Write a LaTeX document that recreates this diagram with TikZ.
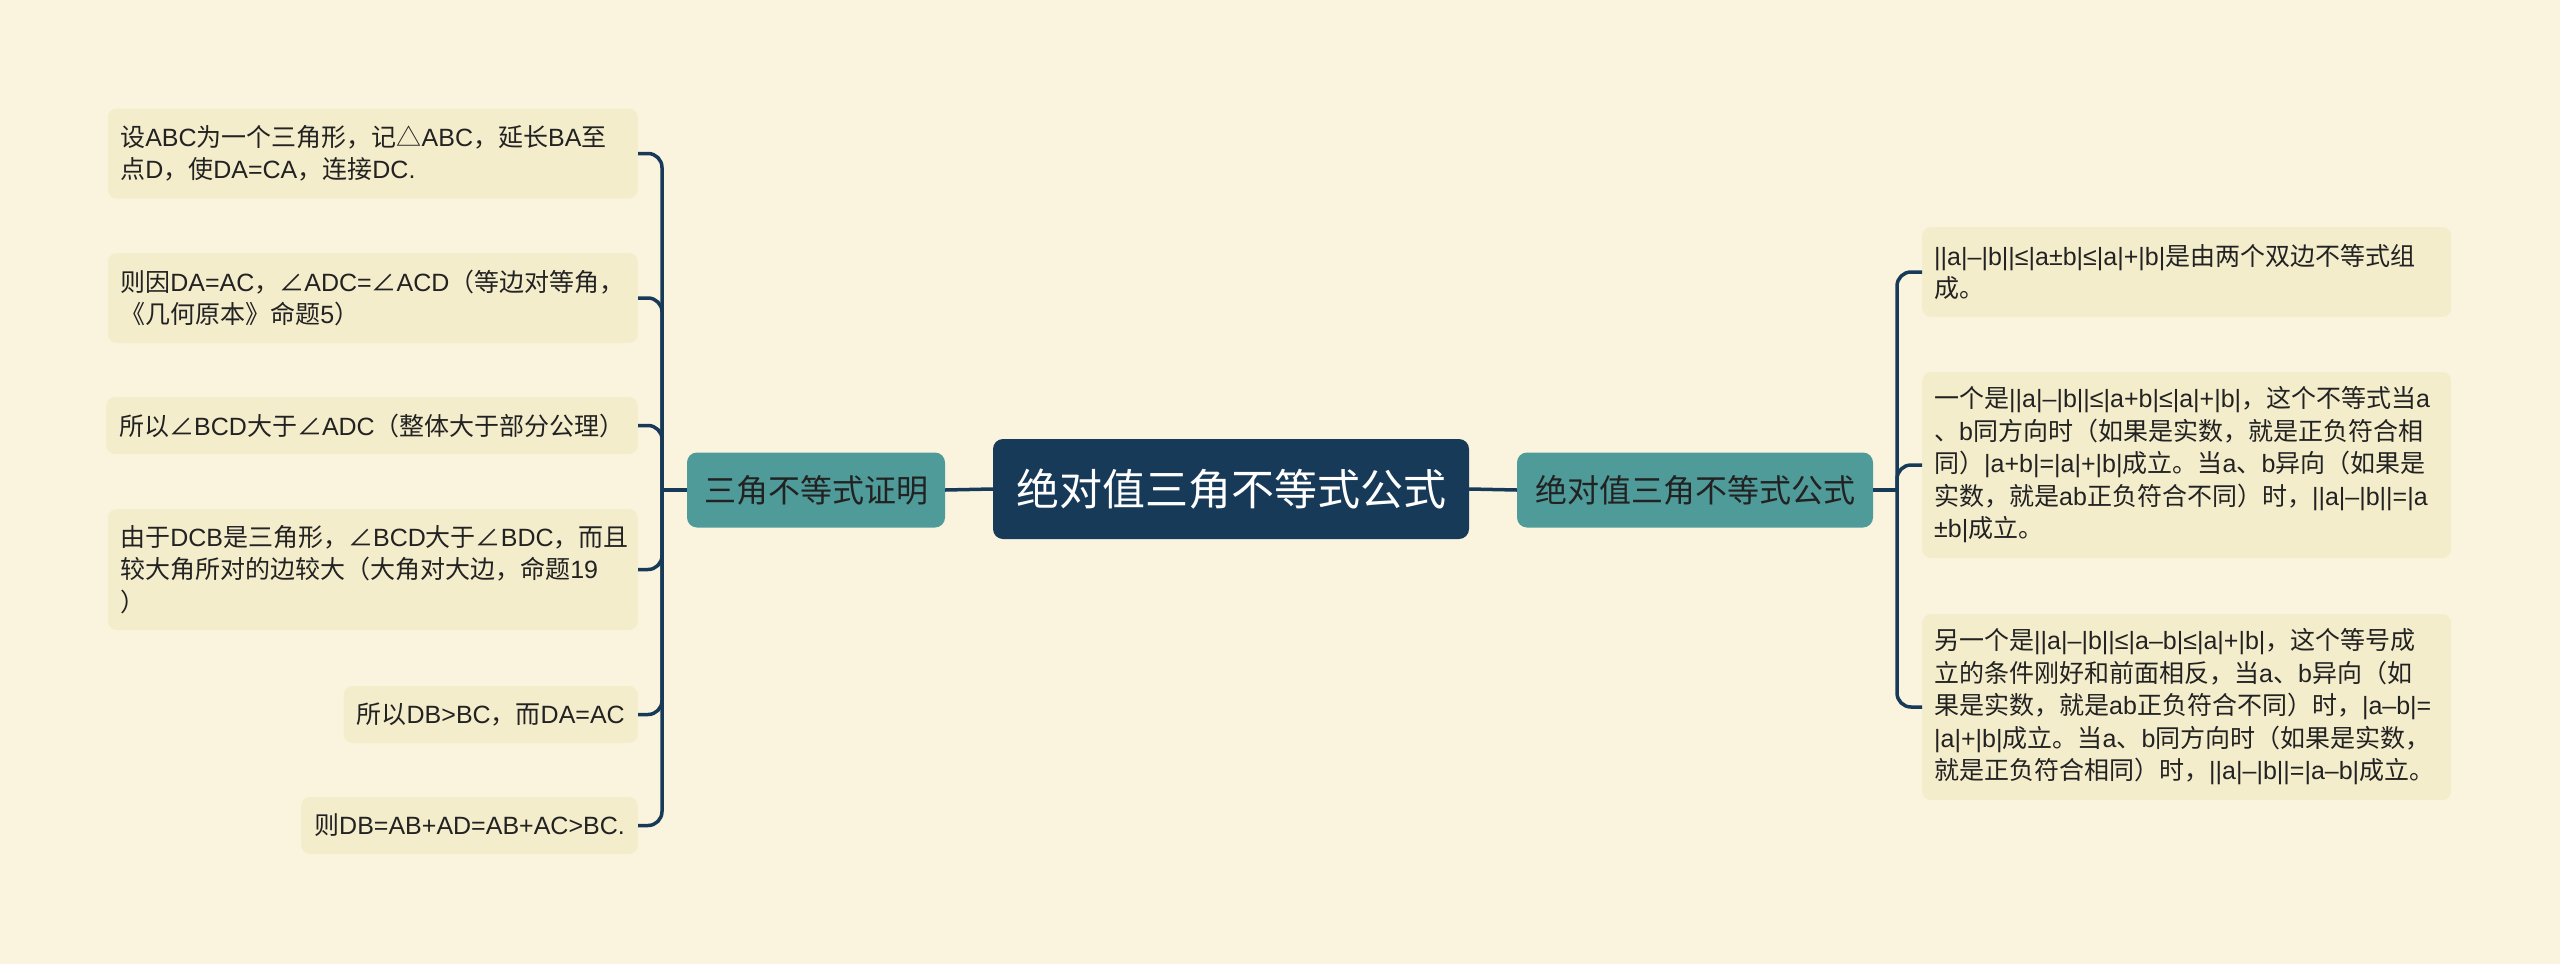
\documentclass[tikz,border=0pt]{standalone}
\usepackage{fontspec}
\setmainfont{Noto Sans CJK SC}
\newfontfamily\latinf{Liberation Sans}
\newcommand{\la}[1]{{\latinf #1}}
\definecolor{bg}{HTML}{FAF4DF}
\definecolor{boxfill}{HTML}{F4EDCC}
\definecolor{teal2}{HTML}{4E9B99}
\definecolor{navy}{HTML}{173A59}
\definecolor{txt}{HTML}{222222}
\tikzset{
  leaf/.style={fill=boxfill, rounded corners=9pt, inner xsep=13pt, inner ysep=4pt,
    align=left, text=txt, font=\fontsize{25pt}{32.5pt}\selectfont},
  leafW/.style={leaf, inner xsep=12.5pt, text width=505pt},
  leafR/.style={leaf, inner xsep=12pt, text width=505pt},
  sub/.style={fill=teal2, rounded corners=10pt, minimum height=75pt, inner sep=0pt,
    text=txt, font=\fontsize{32pt}{38pt}\selectfont},
  rootbox/.style={fill=navy, rounded corners=10pt, minimum width=476pt, minimum height=100pt,
    inner sep=0pt, text=white, font=\fontsize{43pt}{50pt}\selectfont},
  conn/.style={draw=navy, line width=3.5pt},
  brk/.style={conn, rounded corners=14pt}
}
\begin{document}
\begin{tikzpicture}[x=1pt,y=-1pt]
\fill[bg] (0,0) rectangle (2560,964);
\useasboundingbox (0,0) rectangle (2560,964);

\node[rootbox] (root) at (1231,489) {绝对值三角不等式公式};
\node[sub, minimum width=258pt] (lt) at (816,490) {三角不等式证明};
\node[sub, minimum width=356pt] (rt) at (1695,490) {绝对值三角不等式公式};

% left leaves
\node[leafW, minimum height=90pt, anchor=east] (l1) at (638,153.5) {设\la{ABC}为一个三角形，记△\la{ABC}，延长\la{BA}至\\点\la{D}，使\la{DA=CA}，连接\la{DC.}};
\node[leafW, minimum height=90pt, anchor=east] (l2) at (638,298) {则因\la{DA=AC}，∠\la{ADC=}∠\la{ACD}（等边对等角，\\《几何原本》命题\la{5}）};
\node[leaf, minimum height=57pt, anchor=east] (l3) at (638,425.5) {所以∠\la{BCD}大于∠\la{ADC}（整体大于部分公理）};
\node[leafW, minimum height=121pt, anchor=east] (l4) at (638,569.5) {由于\la{DCB}是三角形，∠\la{BCD}大于∠\la{BDC}，而且\\较大角所对的边较大（大角对大边，命题\la{19}\\）};
\node[leaf, minimum height=57pt, anchor=east] (l5) at (638,714.5) {所以\la{DB>BC}，而\la{DA=AC}};
\node[leaf, minimum height=57pt, anchor=east] (l6) at (638,825.5) {则\la{DB=AB+AD=AB+AC>BC.}};

% right leaves
\node[leafR, minimum height=90pt, anchor=west] (r1) at (1922,272) {\la{||a|–|b||≤|a±b|≤|a|+|b|}是由两个双边不等式组\\成。};
\node[leafR, minimum height=186pt, anchor=west] (r2) at (1922,465) {一个是\la{||a|–|b||≤|a+b|≤|a|+|b|}，这个不等式当\la{a}\\、\la{b}同方向时（如果是实数，就是正负符合相\\同）\la{|a+b|=|a|+|b|}成立。当\la{a}、\la{b}异向（如果是\\实数，就是\la{ab}正负符合不同）时，\la{||a|–|b||=|a}\\\la{±b|}成立。};
\node[leafR, minimum height=186pt, anchor=west] (r3) at (1922,707) {另一个是\la{||a|–|b||≤|a–b|≤|a|+|b|}，这个等号成\\立的条件刚好和前面相反，当\la{a}、\la{b}异向（如\\果是实数，就是\la{ab}正负符合不同）时，\la{|a–b|=}\\\la{|a|+|b|}成立。当\la{a}、\la{b}同方向时（如果是实数，\\就是正负符合相同）时，\la{||a|–|b||=|a–b|}成立。};

% connectors
\coordinate (lj) at (662,490);
\coordinate (rj) at (1897,490);
\draw[conn] (root.west) -- (lt.east);
\draw[conn] (root.east) -- (rt.west);
\draw[conn] (lt.west) -- (lj);
\draw[conn] (rt.east) -- (rj);
\foreach \n in {l1,l2,l3,l4,l5,l6} {\draw[brk] (lj) |- (\n.east);}
\foreach \n in {r1,r2,r3} {\draw[brk] (rj) |- (\n.west);}
\end{tikzpicture}
\end{document}
